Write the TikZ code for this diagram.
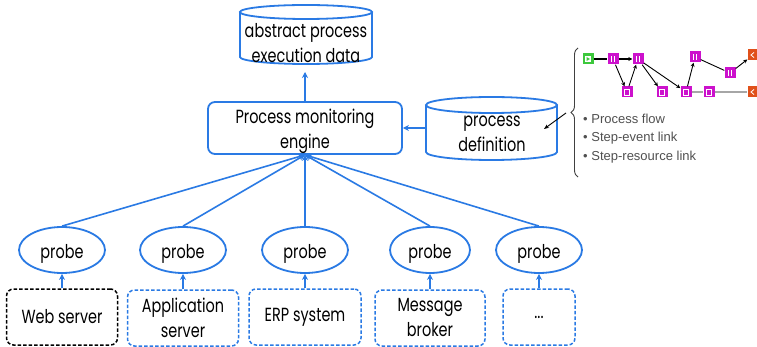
\documentclass[tikz,border=0pt]{standalone}
\usepackage{fontspec}
\setmainfont{Poppins}[FakeStretch=0.76]
\newfontfamily\notefont{Liberation Sans}
\usetikzlibrary{shapes.geometric,arrows.meta,decorations.pathreplacing}
\definecolor{flowblue}{HTML}{2A7AE4}
\definecolor{stepmag}{HTML}{CC11CC}
\definecolor{startgreen}{HTML}{3CC83C}
\definecolor{endred}{HTML}{E0501A}
\definecolor{notegray}{HTML}{505050}

% cylinder outline: left, top, right, bottom, radius of the end ellipses
\newcommand\drumoutline[5]{%
  \draw[drumline] ({(#1+#3)/2},{#2+#5}) ellipse ({(#3-#1)/2} and #5);
  \draw[drumline] (#1,{#2+#5}) -- (#1,{#4-#5})
     arc[start angle=180,end angle=0,x radius={(#3-#1)/2},y radius=#5]
     -- (#3,{#2+#5});
}

\tikzset{
  bigtext/.style={font=\fontsize{19}{25}\selectfont, align=center, text=black},
  drumline/.style={draw=flowblue, line width=1.8pt},
  engbox/.style={draw=flowblue, line width=1.8pt, rounded corners=7pt,
    minimum width=194pt, minimum height=52pt, inner sep=0pt},
  probenode/.style={ellipse, draw=flowblue, line width=1.8pt,
    minimum width=86pt, minimum height=46pt, inner sep=0pt},
  srcbox/.style={bigtext, draw=flowblue, dash pattern=on 3.5pt off 2pt,
    line width=1.5pt, rounded corners=7pt, minimum height=56pt, inner sep=0pt},
  inlabel/.style={label={[bigtext, yshift=-4pt]center:#1}},
  feed/.style={draw=flowblue, line width=1.6pt, -{Stealth[length=6pt,width=6pt]}},
  stepsq/.style={fill=stepmag, minimum size=11pt, inner sep=0pt},
  barmark/.style={path picture={
      \draw[white,line width=0.7pt]
        ([xshift=-1.5pt,yshift=-3pt]path picture bounding box.center) --
        ([xshift=-1.5pt,yshift=3pt]path picture bounding box.center)
        ([xshift=1.5pt,yshift=-3pt]path picture bounding box.center) --
        ([xshift=1.5pt,yshift=3pt]path picture bounding box.center);}},
  rectmark/.style={path picture={
      \draw[white,line width=0.7pt]
        ([xshift=-2.5pt,yshift=-3pt]path picture bounding box.center) rectangle
        ([xshift=2.5pt,yshift=3pt]path picture bounding box.center);}},
  endmark/.style={fill=endred, minimum size=11pt, inner sep=0pt,
    path picture={\draw[white,line width=0.8pt]
      ([xshift=1pt,yshift=-2.5pt]path picture bounding box.center) --
      ([xshift=-2pt]path picture bounding box.center) --
      ([xshift=1pt,yshift=2.5pt]path picture bounding box.center);}},
  flowedge/.style={draw=black, line width=0.9pt, -{Stealth[length=4pt,width=4pt]}},
  flowplain/.style={draw=black, line width=0.9pt},
  greyedge/.style={draw=gray!70, line width=1.3pt},
  notetext/.style={font=\notefont\fontsize{13}{14}\selectfont, text=notegray, anchor=west, inner sep=0pt},
}

\begin{document}
\begin{tikzpicture}[x=1pt,y=-1pt]
\useasboundingbox[fill=white] (0,0) rectangle (757,347);

% ---- storage cylinders ----
\drumoutline{240}{5}{372}{64}{7}
\node[bigtext] (absdata) at (306,43) {abstract process\\execution data};
\coordinate (absfoot) at (305,72);

\drumoutline{426}{97}{557}{160}{8}
\node[bigtext] (procdef) at (492,134) {process\\definition};
\coordinate (procleft) at (426,128);

% ---- engine ----
\node[engbox, label={[bigtext, yshift=-3pt]center:Process monitoring\\engine}]
  (engine) at (305,128) {};

% ---- probes ----
\node[probenode, inlabel=probe] (p1) at (62,250) {};
\node[probenode, inlabel=probe] (p2) at (183,250) {};
\node[probenode, inlabel=probe] (p3) at (305,250) {};
\node[probenode, inlabel=probe, minimum width=80pt] (p4) at (430,250) {};
\node[probenode, inlabel=probe] (p5) at (539,250) {};

% ---- monitored sources ----
\node[srcbox, draw=black, minimum width=111pt] (s1) at (62,317) {Web server};
\node[srcbox, minimum width=111pt] (s2) at (183,318) {Application\\server};
\node[srcbox, minimum width=112pt] (s3) at (305,317) {ERP system};
\node[srcbox, minimum width=110pt] (s4) at (430,318) {Message\\broker};
\node[srcbox, minimum width=72pt] (s5) at (539,317) {...};

% ---- connectors ----
\draw[feed] (engine) -- (absfoot);
\draw[feed] (procleft) -- (engine);
\foreach \k in {1,...,5}{
  \draw[feed] (s\k.north) -- (p\k.south);
  \draw[feed] (p\k.north) -- (engine.south);
}

% ---- process model sketch ----
\node[fill=startgreen, minimum size=11pt, inner sep=0pt,
  path picture={\fill[white] ([xshift=-3pt,yshift=-3pt]path picture bounding box.center) rectangle ([xshift=3pt,yshift=3pt]path picture bounding box.center);
  \fill[startgreen] ([xshift=-1.5pt,yshift=-2pt]path picture bounding box.center) -- ([xshift=2pt]path picture bounding box.center) -- ([xshift=-1.5pt,yshift=2pt]path picture bounding box.center) -- cycle;}]
  (g0) at (588,59) {};
\node[stepsq, barmark] (m1) at (613,59) {};
\node[stepsq, barmark] (m2) at (638,59) {};
\node[stepsq, barmark] (t1) at (695,57) {};
\node[stepsq, barmark] (t2) at (730,73) {};
\node[stepsq, rectmark] (b1) at (627,92) {};
\node[stepsq, rectmark] (b2) at (662,92) {};
\node[stepsq, rectmark] (b3) at (686,92) {};
\node[stepsq, rectmark] (b4) at (709,92) {};
\node[endmark] (r1) at (753,55) {};
\node[endmark] (r2) at (753,92) {};

\draw[flowplain, line width=1.3pt] (g0) -- (m1);
\draw[flowedge, line width=1.3pt] (m1) -- (m2);
\draw[flowedge] (m1) -- (b1);
\draw[flowedge] (b1) -- (m2);
\draw[flowedge] (m2) -- (b2);
\draw[flowedge] (m2) -- (b3);
\draw[flowedge] (b3) -- (t1);
\draw[flowplain] (t1) -- (t2);
\draw[flowedge] (t2) -- (r1);
\draw[greyedge] (b3) -- (b4);
\draw[greyedge] (b4) -- (r2);

% ---- brace and legend ----
\draw[black!75, line width=0.9pt, decorate, decoration={brace, amplitude=7pt}]
  (578,177) coordinate (bracelow) -- (578,48) coordinate (bracehigh);
\coordinate (bracetip) at (566,113);
\coordinate (defspot) at (544,129);
\draw[black, line width=0.9pt, -{Stealth[length=5pt,width=4pt]}] (bracetip) -- (defspot);

\node[notetext] (n1) at (583,119) {• Process flow};
\node[notetext] (n2) at (583,138) {• Step-event link};
\node[notetext] (n3) at (583,157) {• Step-resource link};
\end{tikzpicture}
\end{document}
